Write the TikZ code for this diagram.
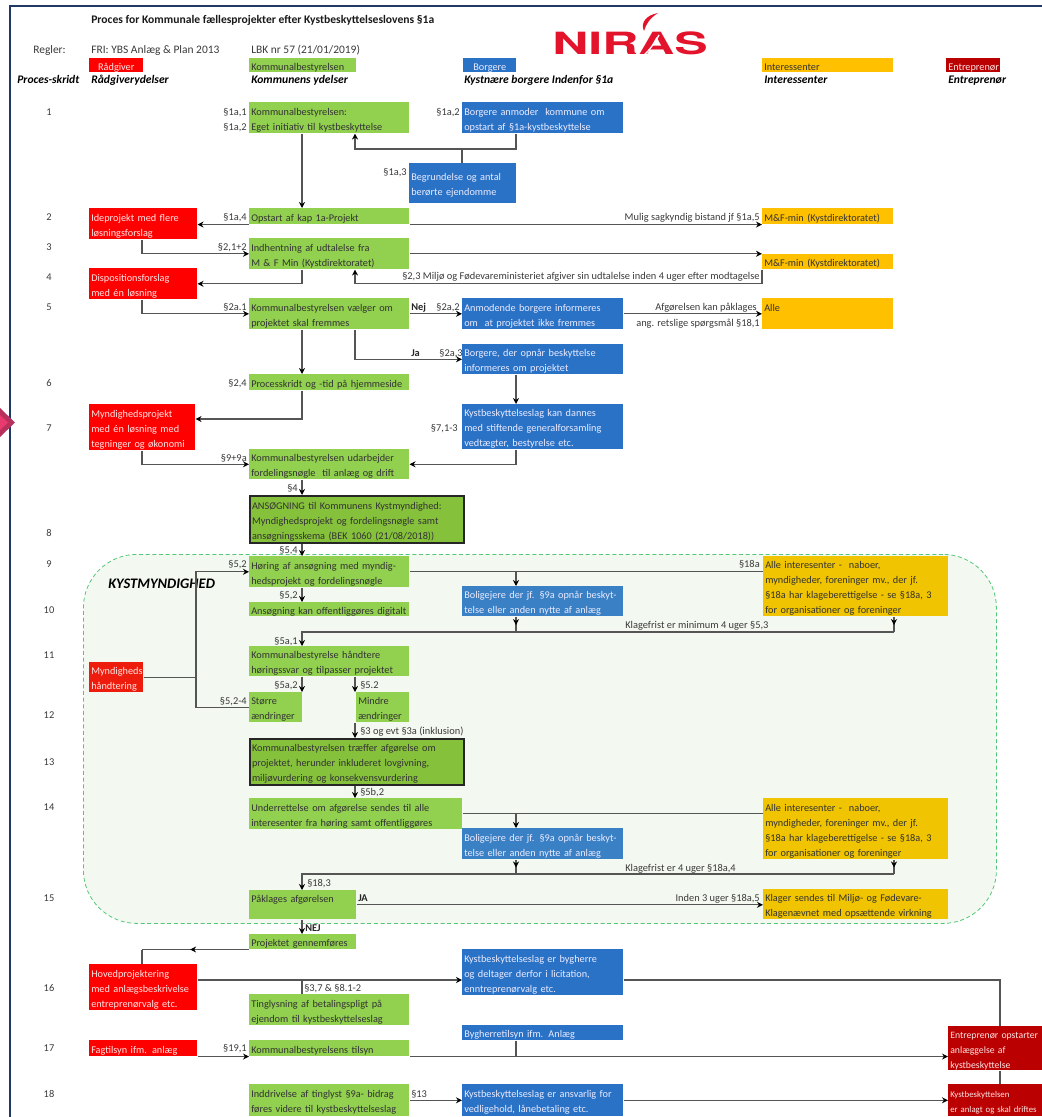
\documentclass[tikz,border=0pt]{standalone}
\usepackage{fontspec}
\setmainfont{Carlito}
\newfontfamily\logofont{TeX Gyre Heros}
\usetikzlibrary{arrows.meta, decorations.markings}
\definecolor{kommunegreen}{HTML}{92D050}
\definecolor{soegreen}{HTML}{86C13C}
\definecolor{borgerblue}{HTML}{2A72C6}
\definecolor{soblue}{HTML}{3A80C4}
\definecolor{interorange}{HTML}{FFC000}
\definecolor{soorange}{HTML}{F0C400}
\definecolor{raadred}{HTML}{FF0000}
\definecolor{entredred}{HTML}{BA0000}
\definecolor{mynred}{HTML}{EE1C0C}
\definecolor{linegrey}{HTML}{555555}
\definecolor{notegrey}{HTML}{3A3A3A}
\definecolor{framenavy}{HTML}{1F3864}
\definecolor{regionfill}{HTML}{F3F9F1}
\definecolor{regionline}{HTML}{55C77A}
\definecolor{logored}{HTML}{E3132C}
\definecolor{markouter}{HTML}{B8305C}
\definecolor{markinner}{HTML}{E83A6E}
\tikzset{
    wh/.style 2 args={minimum width=#1*0.75pt, text width=#1*0.75pt-3pt, minimum height=#2*0.75pt},
}
\tikzstyle{boxes} = [rectangle, anchor=north west, align=left, inner xsep=1.5pt, inner ysep=0pt, font=\fontsize{7.7}{11.25}\selectfont, execute at begin node={\rule{0pt}{8.5pt}}]
\tikzstyle{greenbox} = [boxes, fill=kommunegreen, text=black!80]
\tikzstyle{bluebox} = [boxes, fill=borgerblue, text=white!92!blue]
\tikzstyle{redbox} = [boxes, fill=raadred, text=white!90!red]
\tikzstyle{orangebox} = [boxes, fill=interorange, text=black!80]
\tikzstyle{darkbox} = [boxes, fill=entredred, text=white!90!red]
\tikzstyle{thickbox} = [greenbox, fill=soegreen, draw=black!85, line width=1.5pt]
\tikzstyle{noteE} = [anchor=east, inner sep=0pt, text=notegrey, text height=6.5pt, text depth=1pt, font=\fontsize{7.8}{9}\selectfont]
\tikzstyle{noteW} = [noteE, anchor=west]
\tikzstyle{noteC} = [noteE, anchor=center]
\tikzstyle{noteB} = [noteW, text=black!85, font=\fontsize{7.8}{9}\selectfont\bfseries]
\tikzstyle{toptext} = [noteW, font=\fontsize{8.6}{9}\selectfont]
\tikzstyle{head} = [noteW, text=black, font=\fontsize{8.7}{9}\selectfont\bfseries\itshape]
\tikzstyle{line} = [line width=1pt, draw=linegrey, -]
\tikzstyle{arrow} = [line width=1pt, draw=linegrey, ->]
\tikzstyle{midarrow} = [line, postaction={decorate}, decoration={markings, mark=at position 0.55 with {\arrow{>}}}]

\begin{document}
\begin{tikzpicture}[x=0.75pt, y=-0.75pt, >={Stealth[length=4.5pt, width=4.5pt, black]}]
    \useasboundingbox (0,0) rectangle (1042,1117);

    % frame and side mark
    \draw[framenavy, line width=1.2pt] (10,1117) -- (10,6) -- (1042,6);
    \fill[markouter] (0,408) -- (15,422.5) -- (0,437) -- cycle;
    \fill[markinner] (0,415) -- (8,422.5) -- (0,430) -- cycle;

    % guides for the vertical runs
    \coordinate (railA) at (142,0);
    \coordinate (railB) at (196,0);
    \coordinate (railC) at (302,0);
    \coordinate (railD) at (355,0);
    \coordinate (railE) at (462,0);
    \coordinate (railF) at (516,0);
    \coordinate (railG) at (894,0);
    \coordinate (railH) at (1000,0);
    \coordinate (turn1) at (0,149);
    \coordinate (turn7) at (0,419);
    \coordinate (turn11) at (0,632);
    \coordinate (turn15) at (0,874);
    \coordinate (turn16) at (0,980);

    \node (kyst) [rectangle, anchor=north west, draw=regionline, densely dashed, fill=regionfill, line width=0.6pt, rounded corners=40pt, minimum width=684.75pt, minimum height=276.75pt] at (83,554) {};
    \node (kysttitle) [noteW, text=black, font=\fontsize{10.9}{12}\selectfont\bfseries\itshape] at (108,585) {KYSTMYNDIGHED};

    % header
    \node (title) [noteW, text=black!90, font=\fontsize{8.7}{9}\selectfont\bfseries] at (91,20) {Proces for Kommunale fællesprojekter efter Kystbeskyttelseslovens §1a};
    \node (regler) [toptext] at (33,50) {Regler:};
    \node (fri) [toptext] at (91,50) {FRI: YBS Anlæg \& Plan 2013};
    \node (lbk) [toptext] at (251,50) {LBK nr 57 (21/01/2019)};
    \node (logo) [anchor=west, inner sep=0pt, text=logored, font=\logofont\fontsize{23}{23}\selectfont\bfseries] at (552,43.5) {\scalebox{1.63}[1]{NIRAS}};
    \fill[logored] (658,13) .. controls (647,15) and (640,22) .. (644,31) .. controls (646,24) and (650,18) .. (658,13);
    \draw[white, line width=1pt] (643,56) .. controls (650,50) and (655,42) .. (659,35);

    \node (legendR) [redbox, wh={54}{14}, align=center] at (89,58) {Rådgiver};
    \node (legendK) [greenbox, wh={107}{14}] at (249,58) {Kommunalbestyrelsen};
    \node (legendB) [bluebox, wh={53}{14}, align=center] at (463,58) {Borgere};
    \node (legendI) [orangebox, wh={131}{14}] at (762,58) {Interessenter};
    \node (legendE) [darkbox, wh={54}{14}] at (946,58) {Entreprenør};

    \node (headP) [head] at (17,80) {Proces-skridt};
    \node (headR) [head] at (91,80) {Rådgiverydelser};
    \node (headK) [head] at (251,80) {Kommunens ydelser};
    \node (headB) [head] at (464,80) {Kystnære borgere Indenfor §1a};
    \node (headI) [head] at (764,80) {Interessenter};
    \node (headE) [head] at (948,80) {Entreprenør};

    % step numbers
    \foreach \num/\ypos in {1/112, 2/217, 3/247, 4/277, 5/307, 6/383, 7/428, 8/533, 9/564, 10/610, 11/655, 12/715, 13/762, 14/807, 15/898, 16/988, 17/1048, 18/1094}
        \node (step\num) [noteC] at (49,\ypos) {\num};

    % boxes
    \node (b1) [greenbox, wh={160}{31}] at (249,102) {Kommunalbestyrelsen:\\Eget initiativ til kystbeskyttelse};
    \node (c1) [bluebox, wh={161}{31}] at (462,102) {Borgere anmoder\ \ kommune om\\opstart af §1a-kystbeskyttelse};
    \node (c1a) [bluebox, wh={107}{40}] at (409,163) {Begrundelse og antal\\berørte ejendomme};
    \node (b2) [greenbox, wh={160}{16}] at (249,208) {Opstart af kap 1a-Projekt};
    \node (r2) [redbox, wh={108}{31}] at (89,208) {Ideprojekt med flere\\løsningsforslag};
    \node (i2) [orangebox, wh={131}{16}] at (762,208) {M\&F-min (Kystdirektoratet)};
    \node (b3) [greenbox, wh={160}{31}] at (249,238) {Indhentning af udtalelse fra\\M \& F Min (Kystdirektoratet)};
    \node (i3) [orangebox, wh={131}{15}] at (762,254) {M\&F-min (Kystdirektoratet)};
    \node (r4) [redbox, wh={108}{31}] at (89,268) {Dispositionsforslag\\med én løsning};
    \node (b5) [greenbox, wh={160}{31}] at (249,298) {Kommunalbestyrelsen vælger om\\projektet skal fremmes};
    \node (c5) [bluebox, wh={161}{31}] at (462,298) {Anmodende borgere informeres\\om\ \ at projektet ikke fremmes};
    \node (i5) [orangebox, wh={131}{31}] at (762,298) {Alle\\~};
    \node (c5b) [bluebox, wh={161}{30}] at (462,344) {Borgere, der opnår beskyttelse\\informeres om projektet};
    \node (b6) [greenbox, wh={160}{16}] at (249,374) {Processkridt og -tid på hjemmeside};
    \node (r7) [redbox, wh={106}{46}] at (89,404) {Myndighedsprojekt\\med én løsning med\\tegninger og økonomi};
    \node (c7) [bluebox, wh={161}{45}] at (462,404) {Kystbeskyttelseslag kan dannes\\med stiftende generalforsamling\\vedtægter, bestyrelse etc.};
    \node (b7) [greenbox, wh={160}{30}] at (249,449) {Kommunalbestyrelsen udarbejder\\fordelingsnøgle\ \ til anlæg og drift};
    \node (b8) [thickbox, wh={214}{47}] at (249,495) {ANSØGNING til Kommunens Kystmyndighed:\\Myndighedsprojekt og fordelingsnøgle samt\\ansøgningsskema (BEK 1060 (21/08/2018))};

    \node (b9) [greenbox, wh={160}{31}] at (249,556) {Høring af ansøgning med myndig-\\hedsprojekt og fordelingsnøgle};
    \node (c9) [bluebox, fill=soblue, wh={161}{30}] at (462,586) {Boligejere der jf. §9a opnår beskyt-\\telse eller anden nytte af anlæg};
    \node (i9) [orangebox, fill=soorange, wh={185}{60}] at (763,556) {Alle interesenter -\ \ naboer,\\myndigheder, foreninger mv., der jf.\\§18a har klageberettigelse - se §18a, 3\\for organisationer og foreninger};
    \node (b10) [greenbox, wh={160}{14}] at (249,602) {Ansøgning kan offentliggøres digitalt};
    \node (b11) [greenbox, wh={160}{30}] at (249,646) {Kommunalbestyrelse håndtere\\høringssvar og tilpasser projektet};
    \node (r11) [redbox, fill=mynred, wh={54}{30}] at (89,662) {Myndigheds\\håndtering};
    \node (b12a) [greenbox, wh={53}{30}] at (249,692) {Større\\ændringer};
    \node (b12b) [greenbox, wh={53}{30}] at (356,692) {Mindre\\ændringer};
    \node (b13) [thickbox, wh={214}{46}] at (249,738) {Kommunalbestyrelsen træffer afgørelse om\\projektet, herunder inkluderet lovgivning,\\miljøvurdering og konsekvensvurdering};
    \node (b14) [greenbox, wh={213}{31}] at (249,798) {Underrettelse om afgørelse sendes til alle\\interesenter fra høring samt offentliggøres};
    \node (c14) [bluebox, fill=soblue, wh={161}{31}] at (462,828) {Boligejere der jf. §9a opnår beskyt-\\telse eller anden nytte af anlæg};
    \node (i14) [orangebox, fill=soorange, wh={185}{61}] at (763,798) {Alle interesenter -\ \ naboer,\\myndigheder, foreninger mv., der jf.\\§18a har klageberettigelse - se §18a, 3\\for organisationer og foreninger};
    \node (b15) [greenbox, wh={107}{29}] at (249,890) {Påklages afgørelsen\\~};
    \node (i15) [orangebox, fill=soorange, wh={185}{30}] at (763,889) {Klager sendes til Miljø- og Fødevare-\\Klagenævnet med opsættende virkning};
    \node (b15b) [greenbox, wh={107}{15}] at (249,934) {Projektet gennemføres};

    \node (r16) [redbox, wh={108}{46}] at (89,964) {Hovedprojektering\\med anlægsbeskrivelse\\entreprenørvalg etc.};
    \node (c16) [bluebox, wh={161}{46}] at (462,949) {Kystbeskyttelseslag er bygherre\\og deltager derfor i licitation,\\enntreprenørvalg etc.};
    \node (b16) [greenbox, wh={160}{31}] at (249,994) {Tinglysning af betalingspligt på\\ejendom til kystbeskyttelseslag};
    \node (c17) [bluebox, wh={161}{15}] at (462,1025) {Bygherretilsyn ifm. Anlæg};
    \node (r17) [redbox, wh={108}{16}] at (89,1040) {Fagtilsyn ifm. anlæg};
    \node (b17) [greenbox, wh={160}{16}] at (249,1040) {Kommunalbestyrelsens tilsyn};
    \node (e17) [darkbox, wh={94}{44}, font=\fontsize{7.3}{11.25}\selectfont] at (948,1026) {Entreprenør opstarter\\anlæggelse af\\kystbeskyttelse};
    \node (b18) [greenbox, wh={160}{32}] at (249,1084) {Inddrivelse af tinglyst §9a- bidrag\\føres videre til kystbeskyttelseslag};
    \node (c18) [bluebox, wh={161}{32}] at (462,1084) {Kystbeskyttelseslag er ansvarlig for\\vedligehold, lånebetaling etc.};
    \node (e18) [darkbox, wh={94}{32}, font=\fontsize{6.6}{11.25}\selectfont] at (948,1084) {Kystbeskyttelsen\\er anlagt og skal driftes};

    % connectors
    \draw[arrow] (b1.south -| railC) -- (b2.north -| railC);
    \draw[arrow] (c1.south -| railF) |- (railD |- turn1) -- (b1.south -| railD);
    \draw[line] (c1a.north -| railE) -- (railE |- turn1);
    \draw[arrow] (b2.south west) -- (r2.east |- b2.south);
    \draw[arrow] (b2.south east) -- (i2.west |- b2.south);
    \draw[arrow] (r2.south -| railA) |- (b3.west);
    \draw[arrow] (b3.east) -- (i3.north west |- b3.east);
    \draw[arrow] (b3.south -| railC) |- (r4.east);
    \draw[arrow] (i3.south west) -- (i3.west |- r4.east) -- (railD |- r4.east) -- (b3.south -| railD);
    \draw[arrow] (r4.south -| railA) |- (b5.west);
    \draw[arrow] (b5.east) -- (c5.west);
    \draw[arrow] (c5.east) -- (i5.west);
    \draw[arrow] (b5.south -| railC) -- (b6.north -| railC);
    \draw[arrow] (b5.south -| railD) |- (c5b.west);
    \draw[arrow] (c5b.south -| railF) -- (c7.north -| railF);
    \draw[arrow] (b6.south -| railC) |- (r7.east |- turn7);
    \draw[arrow] (r7.south -| railA) |- (b7.west);
    \draw[arrow] (c7.south -| railF) |- (b7.east);
    \draw[arrow] (b7.south -| railC) -- (b8.north -| railC);
    \draw[arrow] (b8.south -| railC) -- (b9.north -| railC);

    \draw[arrow] (b12a.west) -| (railB |- b9.west) -- (b9.west);
    \draw[line] (r11.east) -- (railB |- r11.east);
    \draw[line] (b9.east) -- (i9.west |- b9.east);
    \draw[arrow] (railF |- b9.east) -- (c9.north -| railF);
    \draw[arrow] (b9.south -| railC) -- (b10.north -| railC);
    \draw[midarrow] (c9.south -| railF) -- (railF |- turn11);
    \draw[midarrow] (i9.south -| railG) -- (railG |- turn11);
    \draw[arrow] (railG |- turn11) -| (b11.north -| railC);
    \draw[arrow] (b11.south -| railC) -- (b12a.north -| railC);
    \draw[arrow] (b11.south -| railD) -- (b12b.north -| railD);
    \draw[arrow] (b12b.south -| railD) -- (b13.north -| railD);
    \draw[arrow] (b13.south -| railD) -- (b14.north -| railD);
    \draw[line] (b14.east) -- (i14.west |- b14.east);
    \draw[arrow] (railF |- b14.east) -- (c14.north -| railF);
    \draw[midarrow] (c14.south -| railF) -- (railF |- turn15);
    \draw[midarrow] (i14.south -| railG) -- (railG |- turn15);
    \draw[arrow] (railG |- turn15) -| (b15.north -| railC);
    \draw[arrow] (b15.east) -- (i15.west |- b15.east);
    \draw[arrow] (b15.south -| railC) -- (b15b.north -| railC);
    \draw[midarrow] (b15b.south west) -- (railA |- b15b.south);
    \draw[line] (railA |- b15b.south) -- (r16.north -| railA);

    \draw[arrow] (r16.east |- turn16) -- (c16.west |- turn16);
    \draw[line] (railC |- turn16) -- (b16.north -| railC);
    \draw[line] (c16.east |- turn16) -| (e17.north -| railH);
    \draw[arrow] (r17.south east) -- (b17.south west);
    \draw[arrow] (b17.south east) -- (e17.west |- b17.south);
    \draw[line] (c17.south -| railF) -- (railF |- b17.south);
    \draw[line] (e17.south -| railH) -- (e18.north -| railH);
    \draw[arrow] (b18.east) -- (c18.west);
    \draw[arrow] (c18.east) -- (e18.west);

    % paragraph and connector labels
    \node (n1) [noteE] at (247,112) {§1a,1};
    \node (n2) [noteE] at (247,127) {§1a,2};
    \node (n3) [noteE] at (460,112) {§1a,2};
    \node (n4) [noteE] at (407,172) {§1a,3};
    \node (n5) [noteE] at (247,217) {§1a,4};
    \node (n6) [noteE] at (760,217) {Mulig sagkyndig bistand jf §1a,5};
    \node (n7) [noteE] at (247,247) {§2,1+2};
    \node (n8) [noteW] at (402,276) {§2,3 Miljø og Fødevareministeriet afgiver sin udtalelse inden 4 uger efter modtagelse};
    \node (n9) [noteE] at (247,307) {§2a.1};
    \node (n10) [noteB] at (411,307) {Nej};
    \node (n11) [noteE] at (460,307) {§2a,2};
    \node (n12) [noteE] at (757,307) {Afgørelsen kan påklages};
    \node (n13) [noteE] at (760,323) {ang. retslige spørgsmål §18,1};
    \node (n14) [noteB] at (411,353) {Ja};
    \node (n15) [noteE] at (463,353) {§2a,3};
    \node (n16) [noteE] at (247,383) {§2,4};
    \node (n17) [noteE] at (458,428) {§7,1-3};
    \node (n18) [noteE] at (247,458) {§9+9a};
    \node (n19) [noteE] at (298,488) {§4};
    \node (n20) [noteE] at (298,550) {§5,4};
    \node (n21) [noteE] at (247,564) {§5,2};
    \node (n22) [noteE] at (760,564) {§18a};
    \node (n23) [noteE] at (298,595) {§5,2};
    \node (n24) [noteW] at (625,625) {Klagefrist er minimum 4 uger §5,3};
    \node (n25) [noteE] at (298,641) {§5a,1};
    \node (n26) [noteE] at (298,685) {§5a,2};
    \node (n27) [noteW] at (360,685) {§5.2};
    \node (n28) [noteE] at (247,701) {§5,2-4};
    \node (n29) [noteW] at (360,731) {§3 og evt §3a (inklusion)};
    \node (n30) [noteW] at (360,792) {§5b,2};
    \node (n31) [noteW] at (625,868) {Klagefrist er 4 uger §18a,4};
    \node (n32) [noteW] at (307,883) {§18,3};
    \node (n33) [noteB] at (358,898) {JA};
    \node (n34) [noteE] at (760,898) {Inden 3 uger §18a,5};
    \node (n35) [noteB] at (305,928) {NEJ};
    \node (n36) [noteW] at (304,988) {§3,7 \& §8.1-2};
    \node (n37) [noteE] at (247,1048) {§19,1};
    \node (n38) [noteW] at (411,1094) {§13};
\end{tikzpicture}
\end{document}
